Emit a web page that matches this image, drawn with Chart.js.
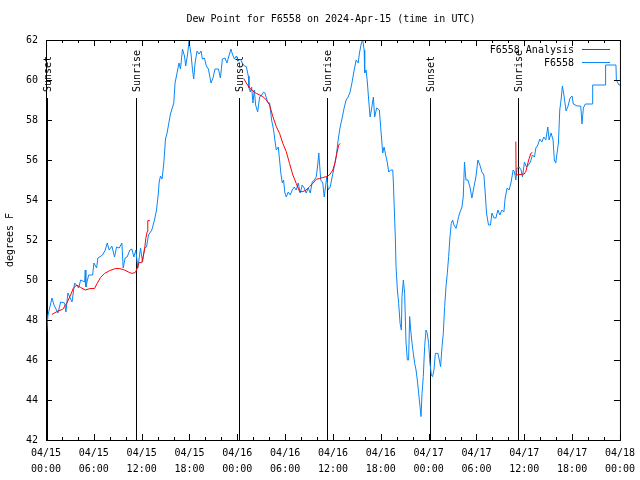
<!DOCTYPE html>
<html>
<head>
<meta charset="utf-8">
<title>Dew Point for F6558</title>
<script src="https://cdn.jsdelivr.net/npm/chart.js@4.4.1/dist/chart.umd.min.js"></script>
<style>
  html, body { margin: 0; padding: 0; background: #fff; }
  canvas { display: block; }
</style>
</head>
<body>
<canvas id="dew-chart" width="640" height="480"></canvas>
<script>
// x values are hours since 04/15 00:00 UTC
var obsHours = [
    0.06, 0.25, 0.75, 1.0, 1.5, 1.84, 2.34, 2.5, 2.75, 3.26,
    3.59, 4.09, 4.35, 4.85, 4.92, 5.0, 5.35, 5.85, 6.01, 6.35,
    6.51, 7.1, 7.43, 7.68, 7.93, 8.26, 8.6, 8.85, 9.18, 9.52,
    9.68, 9.93, 10.18, 10.52, 10.77, 11.02, 11.27, 11.52, 11.86, 12.11,
    12.36, 12.61, 12.86, 13.27, 13.61, 13.86, 14.06, 14.2, 14.36, 14.56,
    14.78, 14.99, 15.19, 15.61, 16.03, 16.19, 16.44, 16.69, 16.87, 17.12,
    17.37, 17.53, 17.78, 17.94, 18.19, 18.37, 18.53, 18.7, 18.95, 19.2,
    19.45, 19.62, 19.87, 20.12, 20.37, 20.7, 20.95, 21.2, 21.63, 21.88,
    22.13, 22.45, 22.7, 22.95, 23.2, 23.38, 23.63, 23.88, 24.13, 24.38,
    24.63, 24.88, 25.13, 25.38, 25.46, 25.63, 25.8, 25.96, 26.13, 26.3,
    26.55, 26.8, 27.05, 27.3, 27.46, 27.8, 28.05, 28.3, 28.55, 28.71,
    28.89, 29.14, 29.3, 29.46, 29.64, 29.8, 29.97, 30.14, 30.39, 30.64,
    30.89, 31.14, 31.39, 31.64, 31.89, 32.14, 32.39, 32.64, 32.9, 33.15,
    33.4, 33.65, 33.9, 34.06, 34.22, 34.31, 34.47, 34.72, 34.9, 35.06,
    35.22, 35.4, 35.65, 35.9, 36.15, 36.4, 36.65, 36.9, 37.15, 37.4,
    37.65, 37.9, 38.15, 38.4, 38.66, 38.91, 39.16, 39.32, 39.57, 39.73,
    39.91, 39.98, 40.16, 40.32, 40.48, 40.66, 40.82, 41.07, 41.23, 41.48,
    41.82, 42.07, 42.24, 42.41, 42.66, 42.83, 42.99, 43.24, 43.5, 43.58,
    43.7, 43.83, 43.91, 44.08, 44.24, 44.42, 44.58, 44.66, 44.83, 44.99,
    45.16, 45.33, 45.49, 45.62, 45.75, 45.92, 46.08, 46.25, 46.42, 46.58,
    46.75, 46.92, 47.05, 47.17, 47.33, 47.5, 47.67, 47.83, 48.0, 48.17,
    48.34, 48.5, 48.67, 48.84, 49.17, 49.34, 49.5, 49.68, 49.84, 50.01,
    50.18, 50.34, 50.51, 50.68, 50.84, 51.01, 51.18, 51.43, 51.59, 51.76,
    51.9, 52.18, 52.34, 52.5, 52.68, 52.93, 53.18, 53.43, 53.68, 53.93,
    54.18, 54.43, 54.68, 54.93, 55.1, 55.26, 55.51, 55.76, 55.94, 56.19,
    56.44, 56.69, 56.94, 57.19, 57.44, 57.6, 57.85, 58.1, 58.35, 58.6,
    58.77, 58.94, 59.1, 59.35, 59.6, 59.77, 60.02, 60.27, 60.52, 60.77,
    61.02, 61.27, 61.45, 61.7, 61.95, 62.2, 62.45, 62.7, 62.95, 63.11,
    63.36, 63.61, 63.77, 63.95, 64.11, 64.28, 64.45, 64.61, 64.78, 64.99,
    65.24, 65.49, 65.74, 65.99, 66.15, 66.65, 67.08, 67.24, 67.41, 67.66,
    68.5, 68.58, 70.17, 70.2, 71.5, 71.55, 71.88, 72.0
];
var obsDewpt = [
    47.35, 48.25, 49.1, 48.75, 48.35, 48.9, 48.85, 48.4, 49.35, 48.9,
    49.85, 49.6, 50.0, 49.9, 50.5, 49.65, 50.25, 50.25, 50.85, 50.6,
    51.1, 51.25, 51.5, 51.85, 51.5, 51.7, 51.15, 51.65, 51.6, 51.85,
    50.6, 51.1, 51.15, 51.5, 51.55, 51.15, 51.5, 50.6, 51.6, 50.9,
    51.6, 51.65, 52.25, 52.5, 53.0, 53.5, 54.2, 54.9, 55.2, 55.05,
    55.85, 57.05, 57.35, 58.3, 58.85, 59.85, 60.35, 60.85, 60.55, 61.55,
    61.2, 60.7, 61.35, 61.95, 61.3, 60.55, 60.05, 60.85, 61.45, 61.3,
    61.45, 61.05, 61.1, 60.7, 60.55, 59.85, 60.1, 60.55, 60.55, 60.1,
    61.05, 61.1, 60.85, 61.2, 61.55, 61.3, 61.05, 61.2, 60.95, 61.05,
    60.85, 60.7, 60.67, 60.2, 59.6, 59.4, 59.65, 58.85, 59.5, 58.75,
    58.4, 59.15, 59.25, 59.4, 59.35, 58.9, 58.85, 58.0, 57.5, 57.0,
    56.5, 56.65, 56.0, 55.35, 54.85, 55.0, 54.35, 54.15, 54.4, 54.25,
    54.5, 54.65, 54.5, 54.85, 54.35, 54.75, 54.6, 54.35, 54.6, 54.35,
    54.9, 55.0, 55.15, 55.65, 56.35, 55.85, 55.0, 54.85, 54.15, 54.65,
    55.15, 54.5, 54.65, 55.15, 55.65, 56.15, 57.0, 57.65, 58.1, 58.6,
    59.0, 59.15, 59.4, 59.9, 60.5, 61.0, 60.85, 61.35, 61.85, 62.0,
    61.5, 60.35, 60.5, 59.85, 59.0, 58.15, 58.5, 59.15, 58.15, 58.6,
    58.5, 57.2, 56.35, 56.65, 56.15, 55.85, 55.4, 55.5, 55.5, 54.85,
    53.5, 52.0, 50.67, 49.5, 48.83, 47.83, 47.5, 49.17, 50.0, 49.33,
    46.9, 46.0, 46.0, 48.17, 47.5, 46.83, 46.33, 45.83, 45.5, 45.0,
    44.33, 43.67, 43.17, 44.33, 45.17, 46.67, 47.5, 47.33, 46.83, 45.83,
    45.25, 45.17, 45.5, 46.33, 46.33, 46.0, 45.67, 46.67, 47.33, 48.67,
    49.67, 50.33, 51.17, 52.17, 52.83, 53.0, 52.75, 52.58, 52.83, 53.17,
    53.35, 53.65, 54.15, 55.9, 55.0, 55.0, 54.65, 54.1, 54.65, 55.15,
    56.0, 55.75, 55.4, 55.25, 54.35, 53.35, 52.75, 52.75, 53.35, 53.1,
    53.1, 53.5, 53.25, 53.5, 53.4, 54.1, 54.6, 54.5, 54.9, 55.5,
    55.4, 55.0, 55.6, 55.65, 55.5, 55.15, 55.9, 55.65, 55.75, 55.9,
    56.25, 56.15, 56.6, 56.75, 57.05, 56.9, 57.15, 57.0, 57.65, 57.0,
    57.35, 57.0, 56.0, 55.85, 56.35, 56.85, 58.5, 59.0, 59.7, 59.2,
    58.45, 58.7, 59.1, 59.2, 58.8, 58.7, 58.7, 57.8, 58.6, 58.8,
    58.8, 59.75, 59.75, 60.75, 60.75, 60.0, 59.75, 59.75
];

// analysis runs, null breaks the line between runs
var anaHours = [
    0.75, 1.5, 2.09, 2.59, 3.09, 3.42, 3.84, 4.34, 4.92, 5.51,
    6.1, 6.42, 6.85, 7.35, 8.01, 8.68, 9.27, 9.85, 10.35, 10.77,
    11.18, 11.36, 11.68, 12.02, 12.18, 12.36, 12.52, 12.69, 12.77, 13.02,
    18,
    24.79, 25.13, 25.54, 25.96, 26.38, 26.8, 27.21, 27.64, 28.05, 28.46,
    28.89, 29.3, 29.71, 30.14, 30.55, 30.97, 31.39, 31.81, 32.22, 32.64,
    33.06, 33.47, 33.9, 34.31, 34.72, 35.15, 35.56, 35.98, 36.23, 36.48,
    36.73, 36.9,
    45,
    58.94, 58.97, 59.98, 60.19, 60.39, 60.61, 60.82, 61.02
];
var anaDewpt = [
    48.28, 48.45, 48.53, 48.83, 49.25, 49.58, 49.75, 49.63, 49.5, 49.57,
    49.58, 49.83, 50.13, 50.33, 50.47, 50.57, 50.57, 50.5, 50.4, 50.33,
    50.37, 50.5, 50.87, 50.87, 51.17, 51.5, 52.08, 52.42, 52.97, 52.97,
    null,
    60.08, 59.85, 59.6, 59.45, 59.33, 59.25, 59.17, 59.0, 58.75, 58.17,
    57.67, 57.33, 56.83, 56.42, 55.83, 55.25, 54.83, 54.42, 54.42, 54.5,
    54.67, 54.83, 55.03, 55.08, 55.12, 55.17, 55.25, 55.5, 55.83, 56.33,
    56.75, 56.83,
    null,
    56.92, 55.25, 55.3, 55.42, 55.75, 56.08, 56.33, 56.38
];

var sunsetHours = [0.15, 24.2, 48.22];
var sunriseHours = [11.3, 35.23, 59.27];

var xTickLabels = [
    ['04/15', '00:00'], ['04/15', '06:00'], ['04/15', '12:00'], ['04/15', '18:00'],
    ['04/16', '00:00'], ['04/16', '06:00'], ['04/16', '12:00'], ['04/16', '18:00'],
    ['04/17', '00:00'], ['04/17', '06:00'], ['04/17', '12:00'], ['04/17', '18:00'],
    ['04/18', '00:00']
];
var yMin = 42, yMax = 62, yStep = 2;

var FONT_FAMILY = "'DejaVu Sans Mono', 'Liberation Mono', monospace";
var FONT = '10px ' + FONT_FAMILY;
var BLUE = '#0a86f5';
var RED = '#ff0000';

function toPoints(xs, ys) {
    var pts = [];
    for (var i = 0; i < xs.length; i++) {
        pts.push({x: xs[i], y: ys[i]});
    }
    return pts;
}

// gnuplot-like frame, inward ticks, sun markers, title and legend
var decorPlugin = {
    id: 'decor',
    beforeDatasetsDraw: function (chart) {
        var ctx = chart.ctx, area = chart.chartArea, xs = chart.scales.x;
        ctx.save();
        ctx.strokeStyle = '#000';
        ctx.fillStyle = '#000';
        ctx.lineWidth = 1;
        ctx.font = FONT;
        function sunMark(h, label) {
            var px = Math.round(xs.getPixelForValue(h)) + 0.5;
            ctx.beginPath();
            ctx.moveTo(px, area.top + 58);
            ctx.lineTo(px, area.bottom);
            ctx.stroke();
            ctx.save();
            ctx.translate(px + 1, area.top + 52);
            ctx.rotate(-Math.PI / 2);
            ctx.textAlign = 'left';
            ctx.textBaseline = 'middle';
            ctx.fillText(label, 0, 0);
            ctx.restore();
        }
        for (var i = 0; i < sunsetHours.length; i++) sunMark(sunsetHours[i], 'Sunset');
        for (var j = 0; j < sunriseHours.length; j++) sunMark(sunriseHours[j], 'Sunrise');
        ctx.restore();
    },
    afterDatasetsDraw: function (chart) {
        var ctx = chart.ctx, area = chart.chartArea;
        var xs = chart.scales.x, ys = chart.scales.y;
        ctx.save();
        ctx.strokeStyle = '#000';
        ctx.lineWidth = 1;
        ctx.beginPath();
        for (var h = 0; h <= 72; h += 2) {
            var px = Math.round(xs.getPixelForValue(h)) + 0.5;
            var len = (h % 6 === 0) ? 6 : 3;
            ctx.moveTo(px, area.bottom);
            ctx.lineTo(px, area.bottom - len);
            ctx.moveTo(px, area.top);
            ctx.lineTo(px, area.top + len);
        }
        for (var v = yMin; v <= yMax; v += yStep) {
            var py = Math.round(ys.getPixelForValue(v)) + 0.5;
            ctx.moveTo(area.left, py);
            ctx.lineTo(area.left + 6, py);
            ctx.moveTo(area.right, py);
            ctx.lineTo(area.right - 6, py);
        }
        ctx.stroke();
        ctx.strokeRect(area.left + 0.5, area.top + 0.5, area.right - area.left, area.bottom - area.top);
        ctx.restore();
    },
    afterDraw: function (chart) {
        var ctx = chart.ctx;
        ctx.save();
        ctx.font = FONT;
        ctx.fillStyle = '#000';
        ctx.textBaseline = 'middle';
        ctx.textAlign = 'center';
        ctx.fillText('Dew Point for F6558 on 2024-Apr-15 (time in UTC)', 331, 19);

        ctx.textAlign = 'right';
        ctx.fillText('F6558 Analysis', 574, 50);
        ctx.fillText('F6558', 574, 63);
        ctx.lineWidth = 1;
        ctx.strokeStyle = RED;
        ctx.beginPath();
        ctx.moveTo(582, 49.5);
        ctx.lineTo(610, 49.5);
        ctx.stroke();
        ctx.strokeStyle = BLUE;
        ctx.beginPath();
        ctx.moveTo(582, 62.5);
        ctx.lineTo(610, 62.5);
        ctx.stroke();
        ctx.restore();
    }
};

var dewChart = new Chart(document.getElementById('dew-chart'), {
    type: 'line',
    data: {
        datasets: [
            {
                label: 'F6558 Analysis',
                data: toPoints(anaHours, anaDewpt),
                borderColor: RED,
                borderWidth: 1,
                pointRadius: 0,
                tension: 0,
                fill: false,
                spanGaps: false
            },
            {
                label: 'F6558',
                data: toPoints(obsHours, obsDewpt),
                borderColor: BLUE,
                borderWidth: 1,
                pointRadius: 0,
                tension: 0,
                fill: false
            }
        ]
    },
    options: {
        responsive: false,
        animation: false,
        devicePixelRatio: 1,
        layout: {
            padding: {top: 40, right: 19, left: 0, bottom: 0}
        },
        plugins: {
            legend: {display: false},
            title: {display: false},
            tooltip: {enabled: false}
        },
        scales: {
            x: {
                type: 'linear',
                min: 0,
                max: 72,
                afterFit: function (scale) { scale.height = 40; },
                grid: {display: false, drawTicks: false},
                border: {display: false},
                ticks: {
                    stepSize: 6,
                    autoSkip: false,
                    maxRotation: 0,
                    padding: 5,
                    color: '#000',
                    font: {family: FONT_FAMILY, size: 10, lineHeight: 1.6},
                    callback: function (value) {
                        return xTickLabels[Math.round(value / 6)];
                    }
                }
            },
            y: {
                min: yMin,
                max: yMax,
                afterFit: function (scale) { scale.width = 46; },
                grid: {display: false, drawTicks: false},
                border: {display: false},
                ticks: {
                    stepSize: yStep,
                    padding: 8,
                    color: '#000',
                    font: {family: FONT_FAMILY, size: 10}
                },
                title: {
                    display: true,
                    text: 'degrees F',
                    color: '#000',
                    font: {family: FONT_FAMILY, size: 10, lineHeight: 1.2},
                    padding: {top: 4, bottom: 4}
                }
            }
        }
    },
    plugins: [decorPlugin]
});
</script>
</body>
</html>
